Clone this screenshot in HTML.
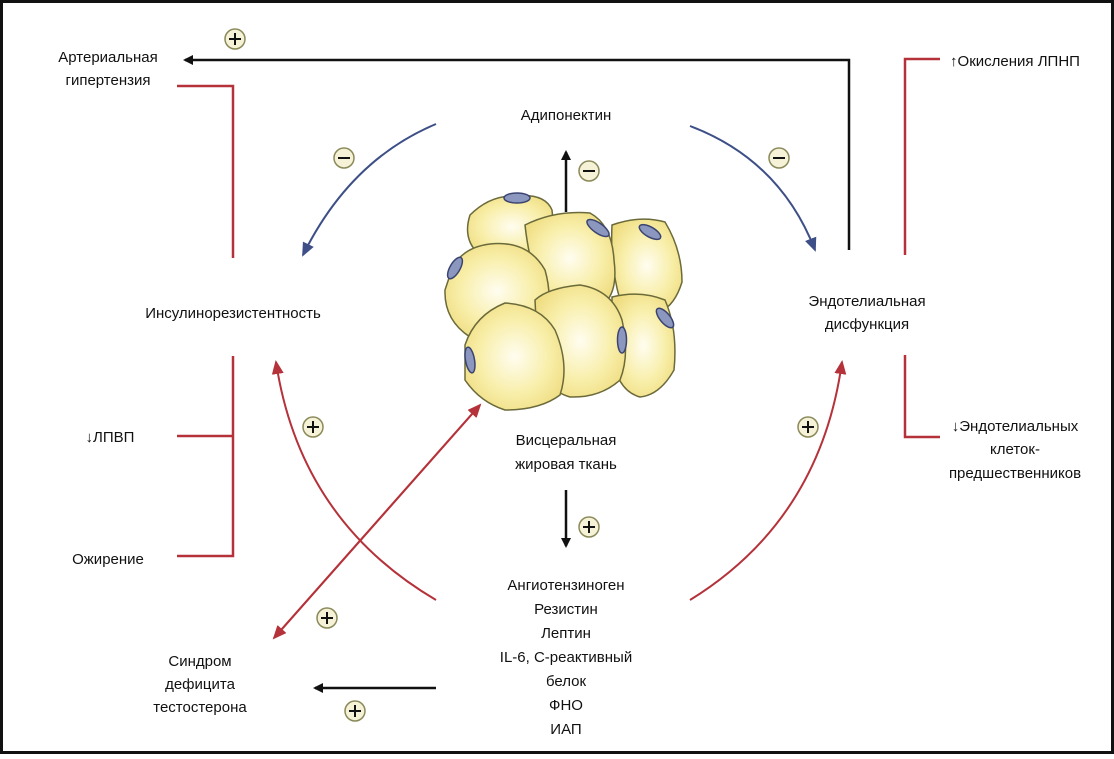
<!DOCTYPE html>
<html><head><meta charset="utf-8"><style>
html,body{margin:0;padding:0;background:#fff}
svg text{font-family:"Liberation Sans",sans-serif;font-size:15px;fill:#111}
</style></head><body>
<svg width="1114" height="754" viewBox="0 0 1114 754" xmlns="http://www.w3.org/2000/svg">
<defs>
<radialGradient id="cg" cx="0.5" cy="0.5" r="0.6">
<stop offset="0" stop-color="#fffdf0"/><stop offset="0.6" stop-color="#f8eea8"/><stop offset="1" stop-color="#efdc80"/>
</radialGradient>
<marker id="ab" markerWidth="10" markerHeight="10" refX="8" refY="5" orient="auto" markerUnits="userSpaceOnUse"><path d="M0,0 L10,5 L0,10 z" fill="#111"/></marker>
<marker id="ar" markerWidth="14" markerHeight="12" refX="12" refY="6" orient="auto" markerUnits="userSpaceOnUse"><path d="M0,0 L14,6 L0,12 z" fill="#b5323a"/></marker>
<marker id="abl" markerWidth="14" markerHeight="12" refX="12" refY="6" orient="auto" markerUnits="userSpaceOnUse"><path d="M0,0 L14,6 L0,12 z" fill="#3d4f86"/></marker>
<g id="plus"><circle r="10" fill="#f5f2d8" stroke="#8a8a5a" stroke-width="1.5"/><path d="M-6,0H6M0,-6V6" stroke="#111" stroke-width="2"/></g>
<g id="minus"><circle r="10" fill="#f5f2d8" stroke="#8a8a5a" stroke-width="1.5"/><path d="M-6,0H6" stroke="#111" stroke-width="2"/></g>
</defs>
<rect x="1.5" y="1.5" width="1111" height="751" fill="#fff" stroke="#111" stroke-width="3"/>

<!-- top black arrow -->
<polyline points="849,250 849,60 185,60" fill="none" stroke="#111" stroke-width="2.5" marker-end="url(#ab)"/>
<use href="#plus" x="235" y="39"/>

<!-- red brackets left -->
<polyline points="177,86 233,86 233,258" fill="none" stroke="#b5323a" stroke-width="2.5"/>
<polyline points="233,356 233,556 177,556" fill="none" stroke="#b5323a" stroke-width="2.5"/>
<line x1="177" y1="436" x2="233" y2="436" stroke="#b5323a" stroke-width="2.5"/>
<!-- right -->
<polyline points="940,59 905,59 905,255" fill="none" stroke="#b5323a" stroke-width="2.5"/>
<polyline points="905,355 905,437 940,437" fill="none" stroke="#b5323a" stroke-width="2.5"/>

<!-- blue arcs -->
<path d="M436,124 Q350,160 303,255" fill="none" stroke="#3d4f86" stroke-width="2" marker-end="url(#abl)"/>
<path d="M690,126 Q780,160 815,250" fill="none" stroke="#3d4f86" stroke-width="2" marker-end="url(#abl)"/>
<use href="#minus" x="344" y="158"/>
<use href="#minus" x="779" y="158"/>

<!-- red arcs -->
<path d="M436,600 Q300,520 276,362" fill="none" stroke="#b5323a" stroke-width="2" marker-end="url(#ar)"/>
<path d="M690,600 Q820,520 842,362" fill="none" stroke="#b5323a" stroke-width="2" marker-end="url(#ar)"/>
<line x1="274" y1="638" x2="480" y2="405" stroke="#b5323a" stroke-width="2" marker-end="url(#ar)"/>
<line x1="480" y1="405" x2="274" y2="638" stroke="#b5323a" stroke-width="2" marker-end="url(#ar)"/>
<use href="#plus" x="313" y="427"/>
<use href="#plus" x="808" y="427"/>
<use href="#plus" x="327" y="618"/>

<!-- small black arrows -->
<line x1="566" y1="212" x2="566" y2="152" stroke="#111" stroke-width="2.5" marker-end="url(#ab)"/>
<use href="#minus" x="589" y="171"/>
<line x1="566" y1="490" x2="566" y2="546" stroke="#111" stroke-width="2.5" marker-end="url(#ab)"/>
<use href="#plus" x="589" y="527"/>
<line x1="436" y1="688" x2="315" y2="688" stroke="#111" stroke-width="2.5" marker-end="url(#ab)"/>
<use href="#plus" x="355" y="711"/>

<!-- cells -->
<g stroke="#6b6a3a" stroke-width="1.5" fill="url(#cg)">
<path d="M470,215 Q490,195 515,196 Q545,193 552,210 L556,250 Q520,262 480,255 Q462,240 470,215z"/>
<path d="M612,225 Q640,215 665,222 Q682,250 682,282 Q675,305 660,312 L620,300 Q610,265 612,225z"/>
<path d="M525,225 Q555,210 590,213 Q612,225 614,260 Q618,290 605,303 Q575,306 545,300 Q530,270 525,225z"/>
<path d="M450,275 Q458,248 490,244 Q528,240 545,270 Q555,305 540,330 Q510,342 470,337 Q444,320 445,290z"/>
<path d="M612,297 Q640,290 665,300 Q678,330 674,370 Q660,395 640,397 Q615,390 612,350z"/>
<path d="M535,300 Q548,288 580,285 Q612,290 622,320 Q630,355 620,380 Q600,398 570,397 Q545,390 538,360z"/>
<path d="M465,345 Q475,315 505,303 Q540,305 555,330 Q570,365 560,395 Q540,410 505,410 Q480,402 465,380z"/>
</g>
<g fill="#8c97c0" stroke="#3b4470" stroke-width="1.5">
<ellipse cx="517" cy="198" rx="13" ry="5"/>
<ellipse cx="598" cy="228" rx="13" ry="5" transform="rotate(35 598 228)"/>
<ellipse cx="650" cy="232" rx="12" ry="5" transform="rotate(30 650 232)"/>
<ellipse cx="455" cy="268" rx="12" ry="5" transform="rotate(-60 455 268)"/>
<ellipse cx="665" cy="318" rx="12" ry="5" transform="rotate(50 665 318)"/>
<ellipse cx="622" cy="340" rx="4.5" ry="13"/>
<ellipse cx="470" cy="360" rx="4.5" ry="13" transform="rotate(-10 470 360)"/>
</g>

<!-- labels -->
<text x="108" y="62" text-anchor="middle">Артериальная</text>
<text x="108" y="85" text-anchor="middle">гипертензия</text>
<text x="566" y="120" text-anchor="middle">Адипонектин</text>
<text x="1015" y="66" text-anchor="middle">↑Окисления ЛПНП</text>
<text x="233" y="318" text-anchor="middle">Инсулинорезистентность</text>
<text x="867" y="306" text-anchor="middle">Эндотелиальная</text>
<text x="867" y="329" text-anchor="middle">дисфункция</text>
<text x="110" y="442" text-anchor="middle">↓ЛПВП</text>
<text x="1015" y="431" text-anchor="middle">↓Эндотелиальных</text>
<text x="1015" y="454" text-anchor="middle">клеток-</text>
<text x="1015" y="478" text-anchor="middle">предшественников</text>
<text x="566" y="445" text-anchor="middle">Висцеральная</text>
<text x="566" y="469" text-anchor="middle">жировая ткань</text>
<text x="108" y="564" text-anchor="middle">Ожирение</text>
<text x="566" y="590" text-anchor="middle">Ангиотензиноген</text>
<text x="566" y="614" text-anchor="middle">Резистин</text>
<text x="566" y="638" text-anchor="middle">Лептин</text>
<text x="566" y="662" text-anchor="middle">IL-6, С-реактивный</text>
<text x="566" y="686" text-anchor="middle">белок</text>
<text x="566" y="710" text-anchor="middle">ФНО</text>
<text x="566" y="734" text-anchor="middle">ИАП</text>
<text x="200" y="666" text-anchor="middle">Синдром</text>
<text x="200" y="689" text-anchor="middle">дефицита</text>
<text x="200" y="712" text-anchor="middle">тестостерона</text>
</svg>
</body></html>
